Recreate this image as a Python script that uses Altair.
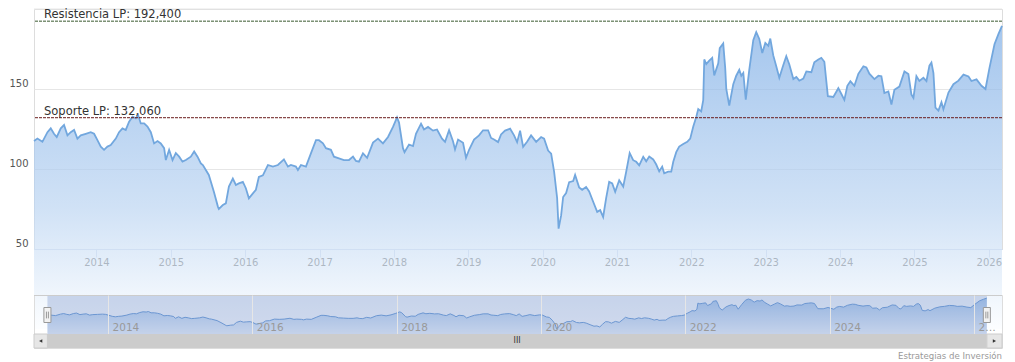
import altair as alt
import pandas as pd

# ---------------- data (decimal year, price) ----------------
seg_a_years = [2013.160, 2013.206, 2013.273, 2013.341, 2013.385, 2013.429, 2013.466, 2013.520, 2013.564, 2013.610,
               2013.654, 2013.699, 2013.744, 2013.789, 2013.856, 2013.923, 2013.968, 2014.013, 2014.058, 2014.102,
               2014.148, 2014.192, 2014.260, 2014.304, 2014.350, 2014.394, 2014.439, 2014.485, 2014.529, 2014.560,
               2014.596, 2014.641, 2014.686, 2014.731, 2014.775, 2014.821, 2014.865, 2014.910, 2014.933, 2014.977,
               2015.023, 2015.067, 2015.112, 2015.157, 2015.202, 2015.269, 2015.314, 2015.359, 2015.404]
seg_a_prices = [117.5, 119, 117, 123, 125.4, 122, 120, 125.4, 127.5, 121,
                123, 124.4, 119, 121, 122, 123, 122, 118, 114, 112,
                114, 115, 119, 123, 125.4, 124.4, 129.6, 132.7, 131.7, 133.8,
                128.5, 128.5, 126.5, 123, 116, 117.5, 116, 113, 105.6, 112,
                105.6, 110, 107.7, 104.6, 105.6, 107.7, 111, 107.7, 103.5]

seg_b_years = [2015.431, 2015.511, 2015.579, 2015.633, 2015.646, 2015.700, 2015.740, 2015.781, 2015.834, 2015.875,
               2015.915, 2015.969, 2016.009, 2016.050, 2016.104, 2016.144, 2016.184, 2016.238, 2016.306, 2016.373,
               2016.440, 2016.521, 2016.575, 2016.615, 2016.682, 2016.709, 2016.750, 2016.817, 2016.884, 2016.952,
               2016.992, 2017.046, 2017.086, 2017.153, 2017.194, 2017.261, 2017.328, 2017.396, 2017.450, 2017.490,
               2017.530, 2017.584]
seg_b_prices = [102.5, 96.3, 85.8, 76.5, 75, 77.5, 78.5, 89, 94, 90,
                91, 92, 88, 81.7, 84.8, 87, 95, 96, 102.5, 101.5,
                102.5, 106, 101.5, 102.5, 101.5, 99.4, 102.5, 101.5, 109.8, 118,
                118, 116, 113, 112, 107.7, 106.7, 105.6, 105.6, 107.7, 105,
                104.6, 109.8]

seg_c_years = [2017.640, 2017.719, 2017.786, 2017.853, 2017.921, 2017.988, 2018.042, 2018.069, 2018.122, 2018.143,
               2018.203, 2018.257, 2018.297, 2018.365, 2018.405, 2018.459, 2018.526, 2018.580, 2018.647, 2018.688,
               2018.742, 2018.795, 2018.822, 2018.863, 2018.930, 2018.970, 2019.011, 2019.078, 2019.145, 2019.199,
               2019.267, 2019.307, 2019.347, 2019.401, 2019.441, 2019.495, 2019.563, 2019.616, 2019.657, 2019.697,
               2019.738, 2019.791, 2019.845]
seg_c_prices = [107, 116.5, 119, 116, 120, 126.3, 132.3, 129, 113, 110.5,
                115.3, 114.3, 122, 128.3, 124.7, 126.3, 124, 124.7, 119, 117,
                124.2, 117.3, 112.2, 118.4, 116.4, 107, 112, 118.4, 121, 124.2,
                124.2, 119.4, 118.4, 116.8, 121.6, 124, 125.2, 121, 116.8, 124,
                113.8, 117, 121]

seg_d_years = [2019.913, 2019.980, 2020.020, 2020.074, 2020.115, 2020.155, 2020.195, 2020.215, 2020.249, 2020.276,
               2020.316, 2020.357, 2020.411, 2020.437, 2020.491, 2020.532, 2020.585, 2020.626, 2020.680, 2020.734,
               2020.774, 2020.814, 2020.855, 2020.895, 2020.936, 2020.976, 2021.030, 2021.084, 2021.124, 2021.171,
               2021.218, 2021.259, 2021.299, 2021.353, 2021.393, 2021.434, 2021.487, 2021.528, 2021.568, 2021.608,
               2021.635, 2021.689, 2021.730, 2021.757, 2021.797, 2021.837, 2021.891, 2021.945, 2021.985, 2022.026,
               2022.066]
seg_d_prices = [117, 120, 119, 111.5, 109.6, 98.2, 82, 62.7, 71, 82.5,
                85, 91.8, 92.5, 96.3, 88.5, 87, 88.8, 86, 79.5, 73.2,
                74.3, 70, 82, 92, 91, 85.7, 93, 89, 98.3, 110,
                105.5, 104.5, 102.3, 107.6, 104.8, 107.8, 106, 102.8, 98.5, 101.5,
                97.3, 98.3, 98.3, 104.5, 110.5, 114, 115.6, 117, 119, 126.5,
                132.5]

seg_e_years = [2022.093, 2022.133, 2022.160, 2022.174, 2022.201, 2022.241, 2022.281, 2022.308, 2022.362, 2022.382,
               2022.429, 2022.456, 2022.470, 2022.510, 2022.564, 2022.604, 2022.645, 2022.672, 2022.699, 2022.732,
               2022.779, 2022.833, 2022.873, 2022.914, 2022.954, 2022.995, 2023.035, 2023.062, 2023.102, 2023.143,
               2023.183, 2023.237, 2023.277, 2023.318, 2023.372, 2023.412, 2023.452, 2023.506, 2023.547, 2023.614,
               2023.654, 2023.708, 2023.748, 2023.789, 2023.836, 2023.910, 2023.977, 2024.018, 2024.058, 2024.098,
               2024.139, 2024.193, 2024.246, 2024.314, 2024.354, 2024.394, 2024.462, 2024.516, 2024.556, 2024.596,
               2024.650, 2024.691, 2024.731, 2024.798, 2024.866, 2024.919, 2024.960, 2024.987, 2025.027, 2025.067,
               2025.121, 2025.162, 2025.202, 2025.229, 2025.256, 2025.283, 2025.323, 2025.364, 2025.390, 2025.458,
               2025.525, 2025.592, 2025.660, 2025.727, 2025.767, 2025.835, 2025.902, 2025.956, 2026.009, 2026.077,
               2026.131, 2026.178]
seg_e_prices = [137.5, 136, 143, 168.5, 165.6, 167.7, 169.5, 158.5, 166, 175.5,
                178.5, 163, 150, 139.6, 153, 158.3, 162, 158.3, 160, 143.3,
                162, 180.5, 185.5, 181.3, 172.5, 178.8, 177, 181.5, 171, 164,
                157, 165, 170.5, 165.3, 156.2, 157.5, 155.2, 156.5, 161, 160.5,
                166.7, 168.5, 169.5, 167, 145.5, 145, 150.5, 146.9, 143.2, 152,
                154.8, 152, 159.5, 164.2, 163.5, 159.6, 156.2, 158.3, 158, 147.5,
                148.5, 140.3, 149.5, 151.5, 161, 159.4, 146.5, 144.5, 158, 155,
                157, 155, 164.6, 166.5, 160, 138.3, 136.5, 141.7, 137.3, 147.8,
                153, 155.2, 159, 157.8, 155, 156, 152, 150, 163, 178,
                184.4, 189.5]

level_values = [192.4, 132.06]
level_labels = ["Resistencia LP: 192,400", "Soporte LP: 132,060"]
level_colors = ["#3a5a30", "#6a1c1c"]

main_year_ticks = list(range(2014, 2027))
nav_year_ticks = [2014, 2016, 2018, 2020, 2022, 2024, 2026]
y_ticks = [50, 100, 150]
y_top_grid = [200]
credit_text = "Estrategias de Inversión"

years = seg_a_years + seg_b_years + seg_c_years + seg_d_years + seg_e_years
prices = seg_a_prices + seg_b_prices + seg_c_prices + seg_d_prices + seg_e_prices
assert len(years) == len(prices)
df = pd.DataFrame({"t": years, "v": prices})
t0, t1 = years[0], years[-1]

# ---------------- layout constants ----------------
W = 968
MAIN_H = 240
NAV_H = 39
SCR_H = 14
FONT = "DejaVu Sans"

main_x = alt.Scale(domain=[t0, t1], nice=False, zero=False)
main_y = alt.Scale(domain=[50, 200], nice=False, zero=False)
nav_x_dom = [2012.974, 2026.388]
nav_x = alt.Scale(domain=nav_x_dom, nice=False, zero=False)
nav_y = alt.Scale(domain=[41, 202], nice=False, zero=False)

main_x_axis = alt.Axis(
    values=main_year_ticks, format="d", title=None, grid=False,
    tickSize=8, tickColor="#ccd6eb", domainColor="#ccd6eb",
    labelColor="#444444", labelFontSize=10, labelPadding=0,
    labelFlush=False, labelOverlap=False, labelFont=FONT)
main_y_axis = alt.Axis(
    values=y_ticks, title=None, grid=True, gridColor="#e6e6e6",
    domain=False, ticks=False, tickSize=0, labelAlign="right",
    labelPadding=6, labelBaseline="alphabetic", labelOffset=-3,
    labelColor="#555555", labelFontSize=10, labelFont=FONT)
nav_x_axis = alt.Axis(
    values=nav_year_ticks, format="d", title=None, grid=True,
    gridColor="#e6e6e6", domain=False, ticks=False, tickSize=0,
    labelAlign="left", labelBaseline="middle", labelPadding=-6.5,
    labelOffset=4, labelColor="#999999", labelFontSize=10.5, labelFont=FONT,
    labelFlush=False, labelOverlap=False, zindex=1,
    labelExpr="datum.value >= 2026 ? '2…' : datum.label")

main_grad = alt.Gradient(
    gradient="linear",
    stops=[alt.GradientStop(color="#7eaee6", offset=0),
           alt.GradientStop(color="#bcd5f2", offset=0.6),
           alt.GradientStop(color="#fbfdff", offset=1)],
    x1=1, x2=1, y1=0, y2=1,
)

top_grid = alt.Chart(pd.DataFrame({"g": y_top_grid})).mark_rule(color="#e6e6e6", strokeWidth=1).encode(
    y=alt.Y("g:Q", scale=main_y, axis=main_y_axis),
)

main_area = alt.Chart(df).mark_area(
    color=main_grad,
    line={"color": "#72a7de", "strokeWidth": 1.8},
).encode(
    x=alt.X("t:Q", scale=main_x, axis=main_x_axis),
    y=alt.Y("v:Q", scale=main_y, axis=main_y_axis),
)

lv = pd.DataFrame({"y": level_values, "label": level_labels, "c": level_colors})
level_rules = alt.Chart(lv).mark_rule(strokeDash=[3, 1], strokeWidth=1).encode(
    y=alt.Y("y:Q", scale=main_y, axis=main_y_axis),
    color=alt.Color("c:N", scale=None),
)
level_text = alt.Chart(lv).mark_text(
    align="left", baseline="alphabetic", dy=-3, fontSize=11.5, color="#333333", font=FONT
).encode(
    x=alt.value(10),
    y=alt.Y("y:Q", scale=main_y, axis=main_y_axis),
    text="label:N",
)

main = alt.layer(top_grid, main_area, level_rules, level_text).properties(width=W, height=MAIN_H)

# ---------------- navigator ----------------
nav_grad = alt.Gradient(
    gradient="linear",
    stops=[alt.GradientStop(color="#8cb6e6", offset=0),
           alt.GradientStop(color="#ffffff", offset=1)],
    x1=1, x2=1, y1=0, y2=1,
)
nav_area = alt.Chart(df).mark_area(
    color=nav_grad, line={"color": "#6f9fd8", "strokeWidth": 1}
).encode(
    x=alt.X("t:Q", scale=nav_x, axis=nav_x_axis),
    y=alt.Y("v:Q", scale=nav_y, axis=None),
)
ext = pd.DataFrame({"a": [t0], "b": [t1]})
nav_mask = alt.Chart(ext).mark_rect(color="#6685c2", opacity=0.3).encode(
    x=alt.X("a:Q", scale=nav_x, axis=nav_x_axis), x2="b:Q",
    y=alt.value(0), y2=alt.value(NAV_H),
)
nav_top = alt.Chart(ext).mark_rule(color="#cccccc", strokeWidth=1).encode(
    x=alt.value(0), x2=alt.value(W), y=alt.value(0.5)
)
handle_shape = ("M-0.47,-1L0.47,-1L0.47,1L-0.47,1Z"
                "M-0.13,-0.45L-0.13,0.45M0.13,-0.45L0.13,0.45")
handles = alt.Chart(pd.DataFrame({"h": [t0, t1]})).mark_point(
    shape=handle_shape, size=225, filled=True, fill="#f2f2f2",
    stroke="#999999", strokeWidth=1, opacity=1,
).encode(
    x=alt.X("h:Q", scale=nav_x, axis=nav_x_axis), y=alt.value(20),
)
nav = alt.layer(nav_area, nav_mask, nav_top, handles).properties(width=W, height=NAV_H)

# ---------------- scrollbar ----------------
bar = alt.Chart(ext).mark_rect(color="#cccccc").encode(
    x=alt.X("a:Q", scale=nav_x, axis=None), x2="b:Q",
    y=alt.value(0), y2=alt.value(SCR_H),
)
btn_df = pd.DataFrame({"a": [nav_x_dom[0], t1], "b": [t0, nav_x_dom[1]]})
buttons = alt.Chart(btn_df).mark_rect(fill="#e6e6e6", stroke="#cccccc", strokeWidth=1).encode(
    x=alt.X("a:Q", scale=nav_x, axis=None), x2="b:Q",
    y=alt.value(0), y2=alt.value(SCR_H),
)
arrow_df = pd.DataFrame({
    "m": [(nav_x_dom[0] + t0) / 2, (t1 + nav_x_dom[1]) / 2],
    "s": ["triangle-left", "triangle-right"],
})
arrows = alt.Chart(arrow_df).mark_point(filled=True, color="#333333", size=14, opacity=1).encode(
    x=alt.X("m:Q", scale=nav_x, axis=None), y=alt.value(SCR_H / 2),
    shape=alt.Shape("s:N", scale=None),
)
grip = alt.Chart(pd.DataFrame({"m": [(t0 + t1) / 2], "g": ["III"]})).mark_text(
    fontSize=8, color="#333333", baseline="middle", font=FONT
).encode(x=alt.X("m:Q", scale=nav_x, axis=None), y=alt.value(SCR_H / 2), text="g:N")
credit = alt.Chart(pd.DataFrame({"c": [credit_text]})).mark_text(
    align="right", baseline="middle", fontSize=8.6, color="#999999", font=FONT
).encode(x=alt.value(W), y=alt.value(22), text="c:N")

scroll = alt.layer(bar, buttons, arrows, grip, credit).properties(width=W, height=SCR_H)

chart = alt.vconcat(
    main,
    alt.vconcat(nav, scroll, spacing=0, bounds="flush"),
    spacing=46, bounds="flush",
).properties(
    padding={"left": 0, "top": 0, "right": 0, "bottom": 0},
).configure_view(strokeWidth=0).configure(font=FONT)

chart.save("out.html", embed_options={"renderer": "svg", "actions": False})
